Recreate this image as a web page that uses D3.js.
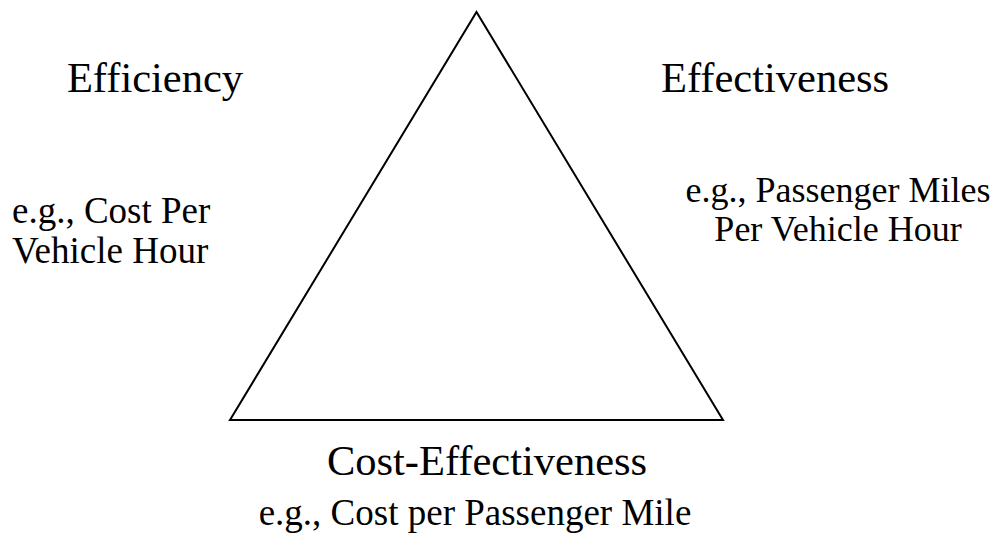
<html>
<head>
<title>Performance triangle</title>
<style>
  body { margin: 0; background: #fff; }
  text { font-family: "Liberation Serif", "Times New Roman", serif; fill: #000; }
</style>
</head>
<body>
<svg id="container" width="1000" height="536"></svg>
<script src="https://d3js.org/d3.v7.min.js"></script>
<script>
    // triangle corners in diagram units (0..1)
    let corners = [[0.5, 0], [1, 1], [0, 1]]
    let headings = ["Efficiency", "Effectiveness", "Cost-Effectiveness"]
    let examples = [
        ["e.g., Cost Per", "Vehicle Hour"],
        ["e.g., Passenger Miles", "Per Vehicle Hour"],
        ["e.g., Cost per Passenger Mile"]
    ]

    let svg = d3.select("#container")

    let x = d3.scaleLinear().domain([0, 1]).range([230, 723])
    let y = d3.scaleLinear().domain([0, 1]).range([12, 420])

    let line = d3.line()
        .x(d => x(d[0]))
        .y(d => y(d[1]))
        .curve(d3.curveLinearClosed)

    svg.append("path")
        .attr("d", line(corners))
        .attr("fill", "none")
        .attr("stroke", "#000")
        .attr("stroke-width", 2)
        .attr("stroke-linejoin", "miter")

    // where each corner's labels go
    let spots = [
        {hx: 155, hy: 92, ex: 12, ey: 223, gap: 40, anchor: "start", size: 37},
        {hx: 775, hy: 92, ex: 838, ey: 202, gap: 39, anchor: "middle", size: 36},
        {hx: 487, hy: 475, ex: 475, ey: 525, gap: 0, anchor: "middle", size: 37}
    ]

    headings.forEach((h, i) => {
        let s = spots[i]
        svg.append("text")
            .attr("x", s.hx)
            .attr("y", s.hy)
            .attr("text-anchor", "middle")
            .attr("font-size", 42.5)
            .text(h)

        let t = svg.append("text")
            .attr("x", s.ex)
            .attr("y", s.ey)
            .attr("text-anchor", s.anchor)
            .attr("font-size", s.size)
        t.selectAll("tspan")
            .data(examples[i])
            .enter()
            .append("tspan")
            .attr("x", s.ex)
            .attr("dy", (d, j) => j == 0 ? 0 : s.gap)
            .text(d => d)
    })
</script>
</body>
</html>
